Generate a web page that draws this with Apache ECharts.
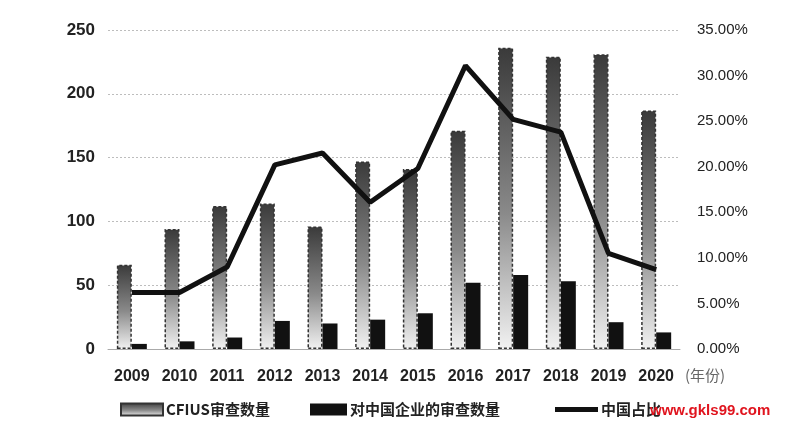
<!DOCTYPE html>
<html><head><meta charset="utf-8">
<script src="https://cdn.jsdelivr.net/npm/echarts@6/dist/echarts.min.js"></script>
<style>html,body{margin:0;padding:0;background:#fff}#c{width:785px;height:426px}</style>
</head><body><div id="c"></div>
<script>
var years = ['2009','2010','2011','2012','2013','2014','2015','2016','2017','2018','2019','2020'];
var cfiusCount = [66, 94, 112, 114, 96, 147, 141, 171, 236, 229, 231, 187];
var chinaCount = [4, 6, 9, 22, 20, 23, 28, 52, 58, 53, 21, 13];
var chinaShare = [6.2, 6.2, 9.0, 20.2, 21.5, 16.1, 19.8, 31.1, 25.2, 23.8, 10.5, 8.7];
var leftTicks = {min: 0, max: 250, interval: 50};
var rightTicks = {min: 0, max: 35, interval: 5};

var numFont = '"Liberation Sans Narrow", "Liberation Sans", sans-serif';
var cjkFont = '"Noto Sans CJK SC", sans-serif';
var chart = echarts.init(document.getElementById('c'));
var grayGrad = new echarts.graphic.LinearGradient(0, 0, 0, 1, [
  {offset: 0, color: '#3a3a3a'}, {offset: 0.55, color: '#8a8a8a'}, {offset: 1, color: '#f2f2f2'}
]);
var gridLine = {show: true, lineStyle: {color: '#bdbdbd', type: [2, 2], width: 1}};
chart.setOption({
  animation: false,
  backgroundColor: '#fff',
  grid: {left: 108, right: 105, top: 30, bottom: 77},
  xAxis: {
    type: 'category', data: years,
    axisLine: {lineStyle: {color: '#aaa'}}, axisTick: {show: false},
    axisLabel: {color: '#222', fontSize: 16, fontWeight: 'bold', fontFamily: numFont, margin: 20}
  },
  yAxis: [{
    type: 'value', min: leftTicks.min, max: leftTicks.max, interval: leftTicks.interval,
    axisLine: {show: false}, axisTick: {show: false}, splitLine: gridLine,
    axisLabel: {color: '#222', fontSize: 17, fontWeight: 'bold', fontFamily: numFont, margin: 13}
  }, {
    type: 'value', min: rightTicks.min, max: rightTicks.max, interval: rightTicks.interval,
    axisLine: {show: false}, axisTick: {show: false}, splitLine: {show: false},
    axisLabel: {color: '#222', fontSize: 15, fontFamily: numFont, margin: 17,
      formatter: function (v) { return v.toFixed(2) + '%'; }}
  }],
  legend: [{
    left: 115, top: 397, itemWidth: 42, itemHeight: 12, icon: 'rect',
    data: ['CFIUS审查数量'],
    textStyle: {color: '#222', fontSize: 15, fontWeight: 'bold', fontFamily: cjkFont, padding: [0,0,0,-2]}
  }, {
    left: 305, top: 397, itemWidth: 37, itemHeight: 12, icon: 'rect',
    data: ['对中国企业的审查数量'],
    textStyle: {color: '#222', fontSize: 15, fontWeight: 'bold', fontFamily: cjkFont, padding: [0,0,0,-2]}
  }, {
    left: 550, top: 397, itemWidth: 43, itemHeight: 5, icon: 'rect',
    data: ['中国占比'],
    textStyle: {color: '#222', fontSize: 15, fontWeight: 'bold', fontFamily: cjkFont, padding: [0,0,0,-2]}
  }],
  series: [{
    name: 'CFIUS审查数量', type: 'bar', data: cfiusCount, barWidth: 15, barGap: '0%',
    itemStyle: {color: grayGrad, borderColor: '#333', borderWidth: 1.5, borderType: [3, 2]}
  }, {
    name: '对中国企业的审查数量', type: 'bar', data: chinaCount, barWidth: 15,
    itemStyle: {color: '#111'}
  }, {
    name: '中国占比', type: 'line', yAxisIndex: 1, data: chinaShare,
    symbol: 'none', lineStyle: {color: '#111', width: 5}, itemStyle: {color: '#111'}, z: 5
  }],
  graphic: [{
    type: 'text', left: 685, top: 368,
    style: {text: '(年份)', fill: '#666', font: '15px "Noto Sans CJK SC", sans-serif'}
  }, {
    type: 'text', left: 650, top: 403, z: 100,
    style: {text: 'www.gkls99.com', fill: '#e0141e', font: 'bold 15px "Liberation Sans", Arial, sans-serif'}
  }]
});
</script></body></html>
